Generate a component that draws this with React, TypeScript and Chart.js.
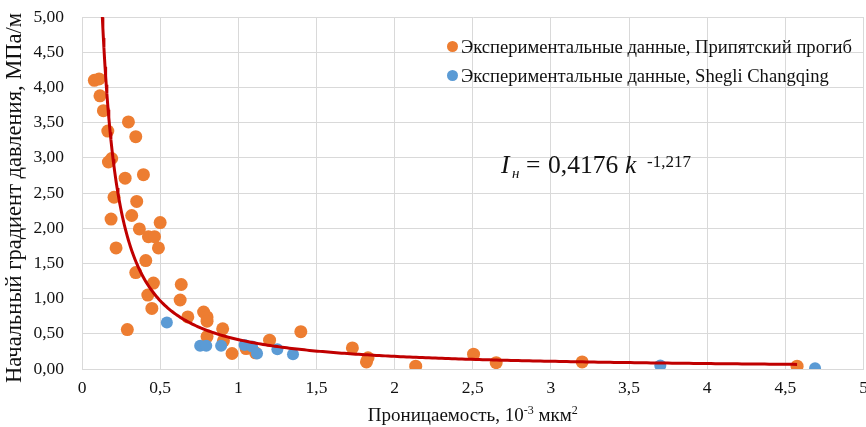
import React, { useEffect, useRef } from "react";
import { Chart, registerables } from "chart.js";

Chart.register(...registerables);

// Проницаемость (10^-3 мкм²) и начальный градиент давления (МПа/м), Припятский прогиб
const pripyatK = [
  0.079, 0.109, 0.115, 0.137, 0.165, 0.169, 0.19, 0.297, 0.344, 0.276, 0.393,
  0.205, 0.35, 0.186, 0.318, 0.367, 0.5, 0.218, 0.425, 0.464, 0.489, 0.408,
  0.344, 0.457, 0.421, 0.447, 0.29, 0.635, 0.628, 0.677, 0.778, 0.8, 0.8, 0.8,
  0.9, 0.905, 0.96, 1.05, 1.11, 1.2, 1.4, 1.73, 1.82, 1.83, 2.135, 2.505, 2.65,
  3.2, 4.575,
];
const pripyatI = [
  4.1, 4.12, 3.88, 3.67, 3.38, 2.94, 2.99, 3.51, 3.3, 2.71, 2.76,
  2.44, 2.38, 2.13, 2.18, 1.99, 2.08, 1.72, 1.88, 1.88, 1.72, 1.54,
  1.37, 1.22, 1.05, 0.86, 0.56, 1.2, 0.98, 0.74, 0.81, 0.74, 0.68, 0.46,
  0.57, 0.4, 0.22, 0.29, 0.23, 0.41, 0.53, 0.3, 0.1, 0.16, 0.04, 0.21, 0.09,
  0.1, 0.04,
];

// Shegli Changqing
const shegliK = [0.543, 0.756, 0.795, 0.89, 1.04, 1.088, 1.12, 1.25, 1.35, 3.7, 4.69];
const shegliI = [0.66, 0.33, 0.33, 0.33, 0.34, 0.32, 0.22, 0.28, 0.21, 0.05, 0.01];

// Степенная линия тренда: Iн = 0,4176 k^-1,217
const trendCoef = 0.4176;
const trendExp = -1.217;
const trendFrom = 0.079;
const trendTo = 4.575;

const seriesNames = [
  "Экспериментальные данные, Припятский прогиб",
  "Экспериментальные данные, Shegli Changqing",
];
const xAxisTitle = ["Проницаемость, 10", "-3", " мкм", "2"];
const yAxisTitle = "Начальный градиент давления, МПа/м";

const ORANGE = "#ED7D31";
const BLUE = "#5B9BD5";
const TREND = "#C00000";
const GRID = "#D9D9D9";
const TEXT = "#111111";
const SERIF = '"Liberation Serif", "Times New Roman", serif';

// the canvas is a little wider than the visible frame so the last
// x tick label may run past the right edge
const FRAME_W = 866;
const FRAME_H = 427;
const CANVAS_W = 870;

function trendPoints() {
  const pts: { x: number; y: number }[] = [];
  const n = 300;
  for (let i = 0; i <= n; i++) {
    // denser sampling near the steep start of the curve
    const t = i / n;
    const x = trendFrom + (trendTo - trendFrom) * t * t;
    pts.push({ x, y: trendCoef * Math.pow(x, trendExp) });
  }
  return pts;
}

const annotations = {
  id: "annotations",
  afterDraw(chart: any) {
    const ctx = chart.ctx as CanvasRenderingContext2D;
    const area = chart.chartArea;
    ctx.save();
    ctx.fillStyle = TEXT;
    ctx.textBaseline = "alphabetic";
    ctx.textAlign = "left";

    // legend
    const legendColors = [ORANGE, BLUE];
    const legendRows = [52.5, 81.5];
    seriesNames.forEach((name, i) => {
      ctx.beginPath();
      ctx.fillStyle = legendColors[i];
      ctx.arc(452.5, legendRows[i] - 6, 5.5, 0, Math.PI * 2);
      ctx.fill();
      ctx.fillStyle = TEXT;
      ctx.font = `18.6px ${SERIF}`;
      ctx.fillText(name, 461, legendRows[i]);
    });

    // formula of the trend line
    const base = 173;
    ctx.font = `italic 25.5px ${SERIF}`;
    ctx.fillText("I", 501, base);
    ctx.font = `italic 15px ${SERIF}`;
    ctx.fillText("н", 512, base + 5);
    ctx.font = `25.5px ${SERIF}`;
    ctx.fillText("=", 526, base);
    ctx.fillText("0,4176", 548, base);
    ctx.font = `italic 25.5px ${SERIF}`;
    ctx.fillText("k", 625, base);
    ctx.font = `17px ${SERIF}`;
    ctx.fillText("-1,217", 647, base - 6);

    // x axis title with superscripts
    const big = `19px ${SERIF}`;
    const small = `12px ${SERIF}`;
    const parts = [
      { t: xAxisTitle[0], f: big, dy: 0 },
      { t: xAxisTitle[1], f: small, dy: -7 },
      { t: xAxisTitle[2], f: big, dy: 0 },
      { t: xAxisTitle[3], f: small, dy: -7 },
    ];
    let total = 0;
    parts.forEach((p) => {
      ctx.font = p.f;
      total += ctx.measureText(p.t).width;
    });
    let tx = (area.left + area.right) / 2 - total / 2;
    const ty = 421;
    parts.forEach((p) => {
      ctx.font = p.f;
      ctx.fillText(p.t, tx, ty + p.dy);
      tx += ctx.measureText(p.t).width;
    });

    // y axis title, rotated
    ctx.translate(15, 198);
    ctx.rotate(-Math.PI / 2);
    ctx.font = `22.5px ${SERIF}`;
    ctx.textAlign = "center";
    ctx.textBaseline = "middle";
    ctx.fillText(yAxisTitle, 0, 0);
    ctx.restore();
  },
};

export default function App() {
  const canvasRef = useRef<HTMLCanvasElement | null>(null);

  useEffect(() => {
    document.body.style.margin = "0";
    const canvas = canvasRef.current;
    if (!canvas) return;

    const chart = new Chart(canvas, {
      type: "scatter",
      data: {
        datasets: [
          {
            type: "line",
            label: "Тренд",
            data: trendPoints(),
            borderColor: TREND,
            borderWidth: 3,
            pointRadius: 0,
            tension: 0,
            fill: false,
            order: 1,
          } as any,
          {
            label: seriesNames[1],
            data: shegliK.map((k, i) => ({ x: k, y: shegliI[i] })),
            backgroundColor: BLUE,
            borderColor: BLUE,
            pointRadius: 6,
            borderWidth: 0,
            order: 2,
          },
          {
            label: seriesNames[0],
            data: pripyatK.map((k, i) => ({ x: k, y: pripyatI[i] })),
            backgroundColor: ORANGE,
            borderColor: ORANGE,
            pointRadius: 6.5,
            borderWidth: 0,
            order: 3,
          },
        ],
      },
      options: {
        responsive: false,
        animation: false,
        layout: { padding: { top: 17, right: 0, left: 0, bottom: 0 } },
        plugins: {
          legend: { display: false },
          tooltip: { enabled: false },
        },
        scales: {
          x: {
            type: "linear",
            min: 0,
            max: 5,
            ticks: {
              stepSize: 0.5,
              padding: 9,
              color: TEXT,
              font: { family: SERIF, size: 17.5 },
              callback: (v: any) => String(v).replace(".", ","),
            },
            grid: { color: GRID, drawTicks: false },
            border: { color: GRID },
            afterFit: (s: any) => {
              s.height = 58;
              s.paddingLeft = 0;
              s.paddingRight = 0;
            },
          },
          y: {
            type: "linear",
            min: 0,
            max: 5,
            ticks: {
              stepSize: 0.5,
              padding: 18,
              color: TEXT,
              font: { family: SERIF, size: 17.5 },
              callback: (v: any) => Number(v).toFixed(2).replace(".", ","),
            },
            grid: { color: GRID, drawTicks: false },
            border: { color: GRID },
            afterFit: (s: any) => {
              s.width = 82;
              s.paddingTop = 0;
              s.paddingBottom = 0;
            },
          },
        },
      } as any,
      plugins: [annotations],
    });

    return () => chart.destroy();
  }, []);

  return (
    <div style={{ width: FRAME_W, height: FRAME_H, overflow: "hidden", background: "#fff" }}>
      <canvas ref={canvasRef} width={CANVAS_W} height={FRAME_H} />
    </div>
  );
}
